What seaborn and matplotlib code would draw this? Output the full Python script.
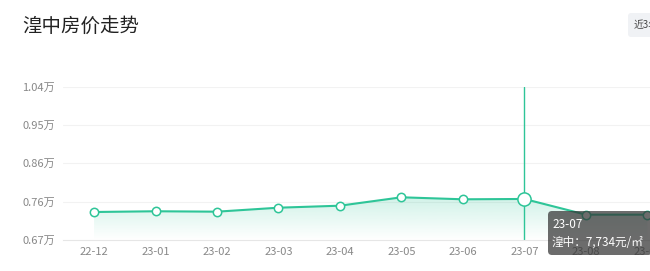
import numpy as np
import pandas as pd
import matplotlib
matplotlib.use("Agg")
import matplotlib.pyplot as plt
import seaborn as sns
from matplotlib.patches import FancyBboxPatch
from matplotlib.transforms import IdentityTransform

# ---- data ----
months = ["22-12", "23-01", "23-02", "23-03", "23-04", "23-05", "23-06", "23-07", "23-08", "23-09"]
prices = [7416, 7434, 7424, 7521, 7570, 7775, 7726, 7734, 7351, 7351]
ytick_values = [6733, 7668, 8603, 9538, 10473]
ytick_labels = ["0.67万", "0.76万", "0.86万", "0.95万", "1.04万"]
title = "湟中房价走势"
tip_month = "23-07"
tip_text = "湟中：7,734元/㎡"
highlight_idx = 7

sns.set_theme(style="white")
plt.rcParams['font.family'] = ['Noto Sans CJK SC', 'DejaVu Sans']

GREEN = "#2ec598"
W, H = 650, 271
fig = plt.figure(figsize=(W / 100, H / 100), dpi=100)
ax = fig.add_axes([63.3 / W, 31 / H, 614.8 / W, 153.3 / H])

df = pd.DataFrame({"pos": np.arange(len(months)), "price": prices})

# gradient fill
poly = ax.fill_between(df["pos"], df["price"], ytick_values[0], color="none", lw=0)
n = 200
grad = np.zeros((n, 1, 4))
rgb = matplotlib.colors.to_rgb(GREEN)
grad[:, 0, 0] = rgb[0]
grad[:, 0, 1] = rgb[1]
grad[:, 0, 2] = rgb[2]
grad[:, 0, 3] = np.linspace(0.0, 0.22, n)
im = ax.imshow(grad, extent=[-0.5, len(months) - 0.5, ytick_values[0], max(prices)],
               origin="lower", aspect="auto", zorder=1, interpolation="bicubic")
im.set_clip_path(poly.get_paths()[0], transform=ax.transData)

sns.lineplot(data=df, x="pos", y="price", ax=ax, color=GREEN, lw=1.5,
             marker="o", markersize=6, markerfacecolor="white",
             markeredgecolor=GREEN, markeredgewidth=1.1, zorder=3)

ax.axvline(highlight_idx, color=GREEN, lw=1.0, zorder=2)
ax.plot([highlight_idx], [prices[highlight_idx]], marker="o", markersize=9.5,
        markerfacecolor="white", markeredgecolor=GREEN, markeredgewidth=1.1, zorder=4)

ax.set_xlim(-0.5, len(months) - 0.5)
ax.set_ylim(ytick_values[0], ytick_values[-1])
ax.set_xticks(range(len(months)))
ax.set_xticklabels(months)
ax.set_yticks(ytick_values)
ax.set_yticklabels(ytick_labels)
ax.set_xlabel("")
ax.set_ylabel("")
for v in ytick_values[1:]:
    ax.axhline(v, color="#f2f2f2", lw=0.8, zorder=0)
for s in ["top", "right", "left"]:
    ax.spines[s].set_visible(False)
ax.spines["bottom"].set_color("#e6e6e6")
ax.spines["bottom"].set_linewidth(0.8)
ax.tick_params(axis="both", length=0, labelsize=8, colors="#888888")
ax.tick_params(axis="y", pad=6)
ax.tick_params(axis="x", pad=5)

# title
fig.text(22.5 / W, 1 - 26 / H, title, fontsize=14, color="#222222", va="center", ha="left")

# top-right button
fig.patches.append(FancyBboxPatch((628, 271 - 37), 40, 24, boxstyle="round,pad=0,rounding_size=3",
                                  transform=IdentityTransform(), facecolor="#f0f2f5",
                                  edgecolor="none", figure=fig))
fig.text(634 / W, 1 - 25 / H, "近3年", fontsize=7, color="#444444", va="center", ha="left")

# tooltip
fig.patches.append(FancyBboxPatch((548, 271 - 255), 104, 44, boxstyle="round,pad=0,rounding_size=4",
                                  transform=IdentityTransform(), facecolor="#333333", alpha=0.72,
                                  edgecolor="none", figure=fig, zorder=10))
fig.text(552 / W, 1 - 225 / H, tip_month, fontsize=8.5, color="white", va="center", ha="left", zorder=11)
fig.text(552 / W, 1 - 242 / H, tip_text, fontsize=8.4, color="white", va="center", ha="left", zorder=11)

fig.savefig("out.png", dpi=100)
